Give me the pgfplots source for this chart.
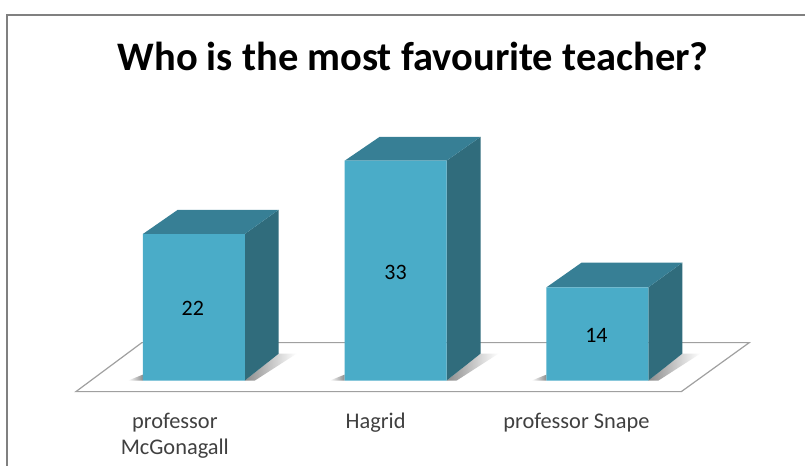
\documentclass[border=0pt]{standalone}
\usepackage{pgfplots}
\pgfplotsset{compat=1.18}
\usepackage{fontspec}
\setmainfont{Carlito}
\definecolor{front}{HTML}{4AACC8}
\definecolor{topc}{HTML}{377F95}
\definecolor{sidec}{HTML}{306C7C}
\definecolor{floorc}{HTML}{A0A0A0}
\definecolor{framec}{HTML}{808080}
\definecolor{lab}{HTML}{404040}
\begin{document}
\begin{tikzpicture}
\begin{axis}[
  width=604.5pt, height=349.5pt, scale only axis,
  xmin=0, xmax=806, ymin=-12.744, ymax=57.12,
  clip=false,
  axis line style={draw=none}, tick style={draw=none},
  ytick=\empty,
  xtick={175,376,577},
  xticklabels={{professor\\McGonagall},{Hagrid},{professor Snape}},
  xticklabel style={align=center, anchor=north, yshift=43pt, font=\fontsize{16.8}{19.5}\selectfont, text=lab},
  title={Who is the most favourite teacher?},
  title style={at={(rel axis cs:0.513,0.862)}, anchor=center, font=\fontsize{30.4}{34}\selectfont\bfseries, text=black},
]
% frame
\addplot[framec, line width=1.2pt] coordinates {(7,-12.744) (7,54.87) (806,54.87)};
% floor
\addplot[fill=white, draw=floorc, line width=0.9pt] coordinates {(76,-1.65) (682,-1.65) (750,5.70) (142,5.70)} -- cycle;
% floor shadows
\addplot[draw=none, left color=white, right color=gray!90] coordinates {(128,0) (143,0) (143,0.9)} -- cycle;
\addplot[draw=none, left color=gray!90, right color=white] coordinates {(245,0) (279,4.05) (297,4.05) (255,0)} -- cycle;
\addplot[draw=none, left color=white, right color=gray!90] coordinates {(330,0) (345,0) (345,0.9)} -- cycle;
\addplot[draw=none, left color=gray!90, right color=white] coordinates {(447,0) (481,4.05) (499,4.05) (457,0)} -- cycle;
\addplot[draw=none, left color=white, right color=gray!90] coordinates {(532,0) (547,0) (547,0.9)} -- cycle;
\addplot[draw=none, left color=gray!90, right color=white] coordinates {(649,0) (683,4.05) (701,4.05) (659,0)} -- cycle;
% side faces
\addplot[fill=sidec, draw=none] coordinates {(245,0) (279,4.05) (279,25.64) (245,22)} -- cycle;
\addplot[fill=sidec, draw=none] coordinates {(447,0) (481,4.05) (481,36.58) (447,33)} -- cycle;
\addplot[fill=sidec, draw=none] coordinates {(649,0) (683,4.05) (683,17.69) (649,14)} -- cycle;
% top faces
\addplot[fill=topc, draw=none] coordinates {(143,22) (178,25.64) (279,25.64) (245,22)} -- cycle;
\addplot[fill=topc, draw=none] coordinates {(345,33) (380,36.58) (481,36.58) (447,33)} -- cycle;
\addplot[fill=topc, draw=none] coordinates {(547,14) (582,17.69) (683,17.69) (649,14)} -- cycle;
% front faces
\addplot[ybar, bar width=76.5pt, bar shift=0pt, fill=front, draw=none] coordinates {(194,22) (396,33) (598,14)};
% data labels
\addplot[draw=none, mark=none, point meta=explicit symbolic,
  nodes near coords, nodes near coords align={center},
  every node near coord/.append style={font=\fontsize{16.5}{19}\selectfont, text=black}]
  coordinates {(193,10.8)[22] (396,16.3)[33] (597,6.8)[14]};
\end{axis}
\end{tikzpicture}
\end{document}
